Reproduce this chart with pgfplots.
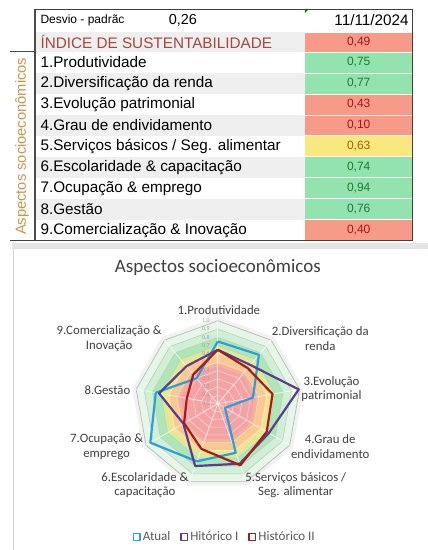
\documentclass[border=0pt]{standalone}
\usepackage{pgfplots}
\pgfplotsset{compat=1.18}
\usepackage{fontspec}
\setmainfont{Liberation Sans}
\newfontfamily\calfont{Carlito}
\definecolor{rowgray}{HTML}{EFEFEF}
\definecolor{cred}{HTML}{F89A88}
\definecolor{cgreen}{HTML}{92E3AD}
\definecolor{cyellow}{HTML}{F9E77F}
\definecolor{tred}{HTML}{A3161C}
\definecolor{tgreen}{HTML}{1D7A33}
\definecolor{tyellow}{HTML}{9C6500}
\definecolor{idxred}{HTML}{A9443F}
\definecolor{tanc}{HTML}{C9964C}
\definecolor{txt}{HTML}{404040}
\definecolor{lgd}{HTML}{595959}
\definecolor{atual}{HTML}{2AA0DA}
\definecolor{hist1}{HTML}{5C3C8F}
\definecolor{hist2}{HTML}{A51C1E}
\definecolor{r10}{HTML}{E6F6E8}
\definecolor{r09}{HTML}{CFF0D4}
\definecolor{r08}{HTML}{AEE7B6}
\definecolor{r07}{HTML}{D6EC9A}
\definecolor{r065}{HTML}{F4E38E}
\definecolor{r06}{HTML}{F8C990}
\definecolor{r05}{HTML}{F7B09C}
\definecolor{r045}{HTML}{F5A2A4}
\newcommand\ring[2]{\addplot[data cs=polar,forget plot,#2] coordinates {(90,#1) (50,#1) (10,#1) (330,#1) (290,#1) (250,#1) (210,#1) (170,#1) (130,#1)} -- cycle;}
\begin{document}
\begin{tikzpicture}[x=1pt,y=1pt]
\fill[white] (0,0) rectangle (428,550);
% ---------- table ----------
\fill[rowgray] (35,518) rectangle (305,498);
\foreach \t in {477,435,393,351} \fill[rowgray] (35,\t) rectangle (305,\t-21);
\fill[cred] (305,518) rectangle (413,498);
\fill[cgreen] (305,498) rectangle (413,477);
\fill[cgreen] (305,477) rectangle (413,456);
\fill[cred] (305,456) rectangle (413,435);
\fill[cred] (305,435) rectangle (413,414);
\fill[cyellow] (305,414) rectangle (413,393);
\fill[cgreen] (305,393) rectangle (413,372);
\fill[cgreen] (305,372) rectangle (413,351);
\fill[cgreen] (305,351) rectangle (413,330);
\fill[cred] (305,330) rectangle (413,309);
\foreach \t in {518,498,477,456,435,414,393,372,351,330} \draw[white,line width=0.8pt] (305,\t) -- (413,\t);
\fill[green!50!black] (305,541) -- (309,541) -- (305,537) -- cycle;
\draw[black!75,line width=0.8pt] (35,541) -- (413,541) -- (413,309);
\draw[black!70,line width=1.4pt] (35,541) -- (35,309);
\draw[black!75,line width=0.8pt] (10,309) -- (413,309);
\draw[black!70,line width=0.8pt] (10,499) -- (35,499);
\node[anchor=west,font=\fontsize{12}{14}\selectfont] at (37,529.5) {Desvio - padrãc};
\node[font=\fontsize{14.5}{16}\selectfont] at (183,529.5) {0,26};
\node[anchor=east,font=\fontsize{15.3}{17}\selectfont] at (412.5,529.5) {11/11/2024};
\node[anchor=west,text=idxred,font=\fontsize{15.3}{17}\selectfont] at (37,508) {ÍNDICE DE SUSTENTABILIDADE};
\node[text=tred,font=\fontsize{12}{14}\selectfont] at (359,508) {0,49};
\foreach \y/\lab/\v/\c in {487.5/1.Produtividade/0{,}75/tgreen, 466.5/2.Diversificação da renda/0{,}77/tgreen, 445.5/3.Evolução patrimonial/0{,}43/tred, 424.5/4.Grau de endividamento/0{,}10/tred, 403.5/5.Serviços básicos \slash{} Seg. alimentar/0{,}63/tyellow, 382.5/6.Escolaridade \& capacitação/0{,}74/tgreen, 361.5/7.Ocupação \& emprego/0{,}94/tgreen, 340.5/8.Gestão/0{,}76/tgreen, 319.5/9.Comercialização \& Inovação/0{,}40/tred}{
  \node[anchor=west,font=\fontsize{15.3}{17}\selectfont] at (37,\y) {\lab};
  \node[text=\c,font=\fontsize{12}{14}\selectfont] at (359,\y) {\v};
}
\node[rotate=90,text=tanc,font=\fontsize{14.7}{16}\selectfont] at (22,403.5) {Aspectos socioeconômicos};
% ---------- chart panel ----------
\fill[black!10] (12,307) rectangle (428,301);
\draw[black!18,line width=0.8pt] (13,301) -- (13,0);
\node[text=txt,font=\calfont\fontsize{19}{22}\selectfont] at (218,282) {Aspectos socioeconômicos};
\begin{axis}[
  name=radar, at={(218pt,146pt)}, anchor=center,
  scale only axis, width=166pt, height=166pt,
  xmin=-1, xmax=1, ymin=-1, ymax=1,
  hide axis, clip=false,
  legend columns=3,
  legend style={at={(0.542,-0.303)}, anchor=center, draw=none, fill=none,
    font=\calfont\fontsize{13}{15}\selectfont, text=lgd,
    /tikz/every even column/.append style={column sep=8pt}},
  legend image code/.code={\draw[#1,line width=1.4pt,fill=white] (0pt,-3.3pt) rectangle (6.6pt,3.3pt);},
]
\ring{1.05}{fill=black!5,draw=none}
\ring{1.0}{fill=r10,draw=none}
\ring{0.9}{fill=r09,draw=none}
\ring{0.8}{fill=r08,draw=none}
\ring{0.7}{fill=r07,draw=none}
\ring{0.65}{fill=r065,draw=none}
\ring{0.6}{fill=r06,draw=none}
\ring{0.5}{fill=r05,draw=none}
\ring{0.45}{fill=r045,draw=none}
\pgfplotsinvokeforeach{0.1,0.2,0.3,0.4,0.5,0.6}{\ring{#1}{draw=white,draw opacity=0.55,line width=0.6pt}}
\pgfplotsinvokeforeach{0.7,0.8,0.9}{\ring{#1}{draw=black!22,line width=0.6pt}}
\ring{1.0}{draw=black!28,line width=0.7pt}
\pgfplotsinvokeforeach{90,50,10,330,290,250,210,170,130}{\addplot[data cs=polar,forget plot,white,draw opacity=0.8,line width=0.7pt] coordinates {(#1,0) (#1,1)};}
\pgfplotsinvokeforeach{0,1,2,3,4,5,6,7,8,9}{\node[text=black!38,font=\calfont\fontsize{6}{6}\selectfont,xshift=-12pt] at (axis cs:0,0.#1) {0,#1};}
\node[text=black!38,font=\calfont\fontsize{6}{6}\selectfont,xshift=-12pt] at (axis cs:0,1) {1,0};
\addplot[data cs=polar,atual,line width=2.2pt,line join=round] coordinates {(90,0.75) (50,0.77) (10,0.43) (330,0.10) (290,0.63) (250,0.74) (210,0.94) (170,0.76) (130,0.40) (90,0.75)};
\addlegendentry{Atual}
\addplot[data cs=polar,hist1,line width=2.2pt,line join=round] coordinates {(90,0.65) (50,0.61) (10,0.99) (330,0.71) (290,0.77) (250,0.80) (210,0.48) (170,0.72) (130,0.59) (90,0.65)};
\addlegendentry{Hitórico I}
\addplot[data cs=polar,hist2,line width=2.2pt,line join=round] coordinates {(90,0.65) (50,0.56) (10,0.67) (330,0.68) (290,0.79) (250,0.58) (210,0.47) (170,0.38) (130,0.46) (90,0.65)};
\addlegendentry{Histórico II}
\end{axis}
\begin{scope}[every node/.style={text=txt,font=\calfont\fontsize{12.8}{14.5}\selectfont,align=center}]
\node at (219,240) {1.Produtividade};
\node at (320.5,211) {2.Diversificação da\\renda};
\node at (331.7,160.5) {3.Evolução\\patrimonial};
\node at (330.5,103) {4.Grau de\\endividamento};
\node at (296,64.5) {5.Serviços básicos /\\Seg. alimentar};
\node at (145,64.5) {6.Escolaridade \&\\capacitação};
\node at (106.7,103) {7.Ocupação \&\\emprego};
\node at (107.5,160) {8.Gestão};
\node at (109.3,211) {9.Comercialização \&\\Inovação};
\end{scope}
\end{tikzpicture}
\end{document}
